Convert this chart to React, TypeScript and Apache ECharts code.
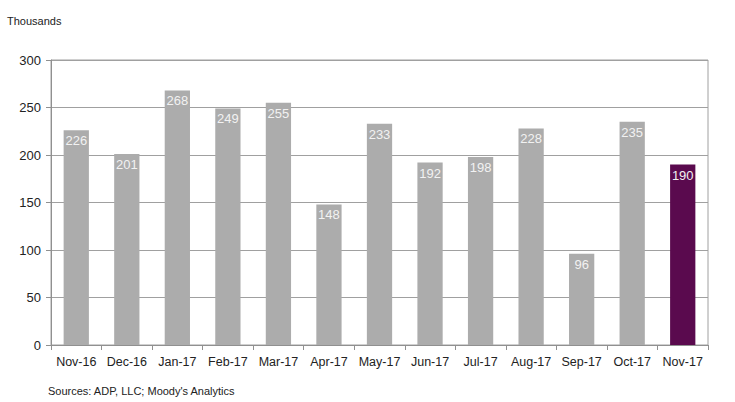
import React, { useEffect, useRef } from "react";
import * as echarts from "echarts";

const categories = ["Nov-16", "Dec-16", "Jan-17", "Feb-17", "Mar-17", "Apr-17", "May-17", "Jun-17", "Jul-17", "Aug-17", "Sep-17", "Oct-17", "Nov-17"];
const values = [226, 201, 268, 249, 255, 148, 233, 192, 198, 228, 96, 235, 190];
const yTicks = { min: 0, max: 300, interval: 50 };
const unitLabel = "Thousands";
const sourceLabel = "Sources: ADP, LLC; Moody's Analytics";

export default function App() {
  const ref = useRef<HTMLDivElement>(null);
  useEffect(() => {
    const chart = echarts.init(ref.current!, null, { renderer: "svg" });
    const font = "'Liberation Sans', Arial, sans-serif";
    chart.setOption({
      animation: false,
      textStyle: { fontFamily: font },
      grid: { left: 51, right: 27, top: 60, bottom: 57, show: true, borderColor: "#a0a0a0", borderWidth: 1 },
      graphic: [
        { type: "text", left: 7, top: 15, style: { text: unitLabel, font: `11px ${font}`, fill: "#222" } },
        { type: "text", left: 48, top: 385, style: { text: sourceLabel, font: `11px ${font}`, fill: "#222" } },
      ],
      xAxis: {
        type: "category",
        data: categories,
        axisLine: { lineStyle: { color: "#909090" } },
        axisTick: { show: true, length: 5, interval: 0, lineStyle: { color: "#909090" } },
        axisLabel: { color: "#222", fontSize: 12.5, margin: 10, interval: 0, fontFamily: font },
      },
      yAxis: {
        type: "value",
        min: yTicks.min,
        max: yTicks.max,
        interval: yTicks.interval,
        axisLine: { show: true, lineStyle: { color: "#909090" } },
        axisTick: { show: true, length: 5, lineStyle: { color: "#909090" } },
        axisLabel: { color: "#222", fontSize: 13, margin: 10, fontFamily: font },
        splitLine: { lineStyle: { color: "#a0a0a0" } },
      },
      series: [
        {
          type: "bar",
          barWidth: "50%",
          data: values.map((v, i) => ({
            value: v,
            itemStyle: { color: i === values.length - 1 ? "#5a0a4e" : "#acacac" },
          })),
          label: {
            show: true,
            position: "insideTop",
            distance: 4,
            color: "#f2f2f2",
            fontSize: 13,
            fontFamily: font,
          },
        },
      ],
    });
    return () => chart.dispose();
  }, []);
  return <div ref={ref} style={{ width: 735, height: 402, position: "absolute", left: 0, top: 0 }} />;
}
